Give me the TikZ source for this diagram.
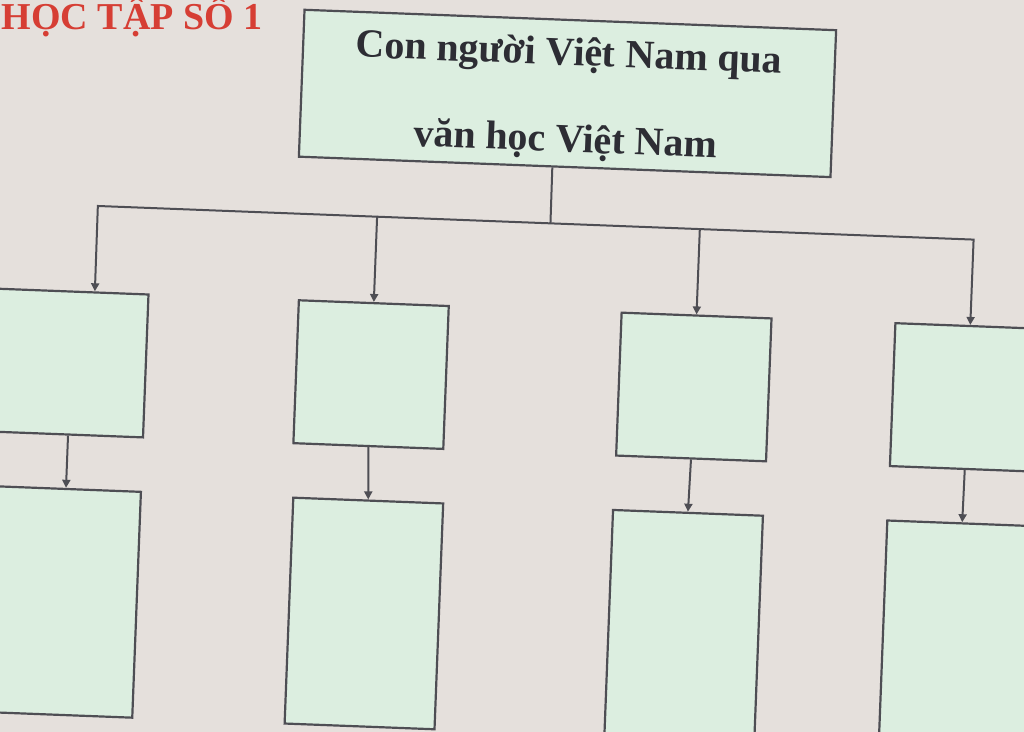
\documentclass[tikz,border=0pt]{standalone}
\usepackage{fontspec}
\setmainfont{Liberation Serif}
\usetikzlibrary{arrows.meta,calc}
\definecolor{bg}{RGB}{229,224,220}
\definecolor{boxfill}{RGB}{220,238,224}
\definecolor{lin}{RGB}{78,78,84}
\definecolor{ink}{RGB}{45,45,52}
\definecolor{titlered}{RGB}{214,62,52}
\begin{document}
\begin{tikzpicture}[x=0.5pt,y=-0.5pt,
  box/.style={draw=lin, fill=boxfill, line width=1.1pt, rectangle, inner sep=0pt, transform shape},
  upper/.style={box, minimum width=75pt, minimum height=71.5pt},
  lower/.style={box, minimum width=75pt, minimum height=113pt},
  link/.style={draw=lin, line width=1pt},
  arr/.style={link, -{Triangle[length=4pt,width=4pt]}},
]
\useasboundingbox (0,0) rectangle (1024,732);
\fill[bg] (0,0) rectangle (1024,732);
\clip (0,0) rectangle (1024,732);
% title
\node[anchor=base east, text=titlered, inner sep=0pt,
      font=\fontsize{19pt}{19pt}\selectfont\bfseries] (title) at (263,30) {HỌC TẬP SỐ 1};
\begin{scope}[rotate around={-2.2:(512,366)}]
  % top box
  \node[box, minimum width=266pt, minimum height=73.5pt] (top) at (557,91.5) {};
  \node[transform shape, text=ink, align=center, inner sep=0pt, yshift=-2.5pt,
        font=\fontsize{20pt}{43.5pt}\selectfont\bfseries] (toptext) at (top.center)
        {Con người Việt Nam qua\\văn học Việt Nam};
  % upper row
  \node[upper] (b1) at (71,380) {};
  \node[upper] (b2) at (371.5,380) {};
  \node[upper] (b3) at (694.5,380) {};
  \node[upper] (b4) at (968.5,380) {};
  % lower row
  \node[lower] (b5) at (71,619) {};
  \node[lower] (b6) at (373.5,619) {};
  \node[lower] (b7) at (693.5,619) {};
  \node[lower] (b8) at (968,619) {};
  % bus coordinates
  \coordinate (j) at (545,222);
  \coordinate (d1) at (92,222);
  \coordinate (d2) at (371.5,222);
  \coordinate (d3) at (694.5,222);
  \coordinate (d4) at (968.5,222);
  % connectors
  \draw[link] ($(top.south west)!0.477!(top.south east)$) -- (j);
  \draw[link] (d2) -- (d3);
  \draw[arr] (d2) -- (d1) -- ($(b1.north west)!0.64!(b1.north east)$);
  \draw[arr] (d3) -- (d4) -- (b4.north);
  \draw[arr] (d2) -- (b2.north);
  \draw[arr] (d3) -- (b3.north);
  \draw[arr] (b1.south) -- (b5.north);
  \draw[arr] (b2.south) -- (b6.north);
  \draw[arr] (b3.south) -- (b7.north);
  \draw[arr] (b4.south) -- (b8.north);
\end{scope}
\end{tikzpicture}
\end{document}
